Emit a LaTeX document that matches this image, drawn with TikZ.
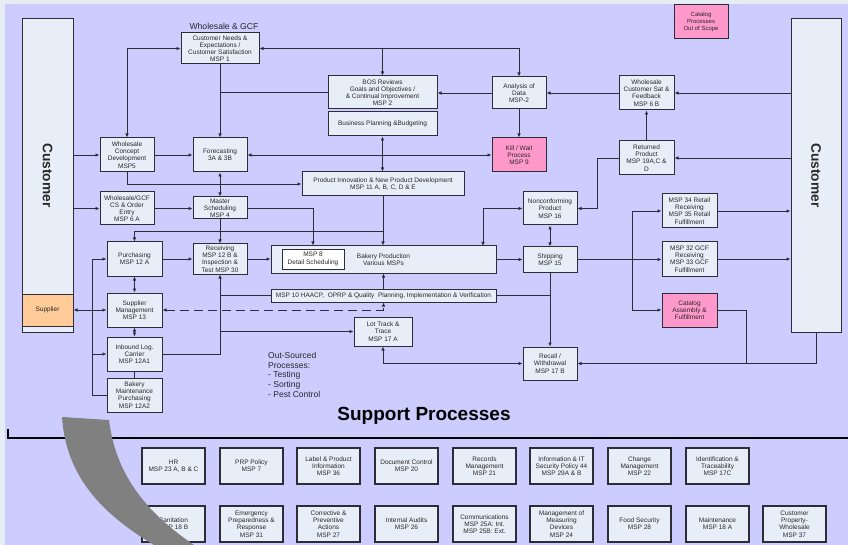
\documentclass[tikz,border=0pt]{standalone}
\usepackage{fontspec}
\setmainfont{Liberation Sans}
\usetikzlibrary{arrows.meta,calc}
\definecolor{lav}{RGB}{204,204,255}
\definecolor{boxfill}{RGB}{232,238,247}
\definecolor{pinkf}{RGB}{255,153,204}
\definecolor{orangef}{RGB}{255,204,153}
\definecolor{edge}{RGB}{45,45,55}
\definecolor{outerbg}{RGB}{230,238,245}
\definecolor{swoosh}{RGB}{128,128,128}
\definecolor{txt}{RGB}{40,40,40}
\newcommand{\pbox}[7][]{\node[box,#1,minimum width={(#5-#3)*1pt},minimum height={(#6-#4)*1pt}] (#2) at ({(#3+#5)/2},{(#4+#6)/2}) {#7};}
\begin{document}
\begin{tikzpicture}[x=1pt,y=-1pt,
  box/.style={draw=edge, line width=1pt, fill=boxfill, inner sep=0pt, align=center, font=\fontsize{6.5}{7.2}\selectfont, text=txt},
  pinkbox/.style={fill=pinkf},
  con/.style={draw=edge, line width=0.8pt},
  arr/.style={con, -{Latex[length=4pt,width=3.6pt]}},
  darr/.style={con, {Latex[length=4pt,width=3.6pt]}-{Latex[length=4pt,width=3.6pt]}},
  custlabel/.style={rotate=-90, font=\bfseries\fontsize{13.7}{14}\selectfont, text=txt}
]
\useasboundingbox (0,0) rectangle (848,545);
\fill[outerbg] (0,0) rectangle (848,545);
\fill[lav] (5,4) rectangle (848,545);

% customers
\pbox[label={[custlabel]center:Customer}]{custL}{22}{19}{73}{332}{}
\pbox[label={[custlabel]center:Customer}]{custR}{791}{19}{841}{332}{}
\pbox[fill=orangef]{sup}{22}{294}{73}{326}{Supplier}

% top labels
\node[font=\fontsize{8.6}{9}\selectfont, text=txt] (wgcf) at (224,26) {Wholesale \& GCF};

% process boxes
\pbox{msp1}{181}{33}{259}{64}{Customer Needs \&\\Expectations /\\Customer Satisfaction\\MSP 1}
\pbox{wcd}{100}{138}{154}{172}{Wholesale\\Concept\\Development\\MSP5}
\pbox{fc}{193}{138}{247}{172}{Forecasting\\3A \& 3B}
\pbox{bos}{328}{76}{437}{109}{BOS Reviews\\Goals and Objectives /\\\& Continual Improvement\\MSP 2}
\pbox{bp}{328}{112}{437}{136}{Business Planning \&Budgeting}
\pbox{aod}{492}{77}{546}{109}{Analysis of\\Data\\MSP-2}
\pbox[pinkbox]{kill}{492}{138}{546}{172}{Kill / Wait\\Process\\MSP 9}
\pbox{pi}{302}{172}{464}{196}{Product Innovation \& New Product Development\\MSP 11 A, B, C, D \& E}
\pbox[pinkbox,font=\fontsize{6}{7}\selectfont]{cat}{674}{5}{728}{39}{Catalog\\Processes\\Out of Scope}
\pbox{wcs}{619}{76}{674}{110}{Wholesale\\Customer Sat \&\\Feedback\\MSP 6 B}
\pbox{rp}{619}{141}{674}{175}{Returned\\Product\\MSP 19A,C \&\\D}
\pbox{oe}{100}{192}{154}{225}{Wholesale/GCF\\CS \& Order\\Entry\\MSP 6 A}
\pbox{ms}{193}{197}{247}{219}{Master\\Scheduling\\MSP 4}
\pbox{pur}{107}{242}{162}{276}{Purchasing\\MSP 12 A}
\pbox{rec}{193}{244}{247}{274}{Receiving\\MSP 12 B \&\\Inspection \&\\Test MSP 30}
\pbox{sm}{107}{293}{162}{327}{Supplier\\Management\\MSP 13}
\pbox{ilc}{107}{337}{162}{371}{Inbound Log.\\Carrier\\MSP 12A1}
\pbox{bmp}{107}{378}{162}{412}{Bakery\\Maintenance\\Purchasing\\MSP 12A2}
\pbox{bak}{271}{246}{496}{273}{Bakery Production\\Various MSPs}
\pbox[fill=white,line width=0.8pt]{msp8}{282}{249}{344}{269}{MSP 8\\Detail Scheduling}
\pbox{msp10}{271}{289}{496}{302}{MSP 10 HAACP,\ \ OPRP \& Quality\ \ Planning, Implementation \& Verification}
\pbox{lot}{354}{317}{412}{346}{Lot Track \&\\Trace\\MSP 17 A}
\pbox{nc}{523}{192}{577}{225}{Nonconforming\\Product\\MSP 16}
\pbox{ship}{523}{247}{577}{272}{Shipping\\MSP 15}
\pbox{rw}{523}{347}{577}{380}{Recall /\\Withdrawal\\MSP 17 B}
\pbox{r34}{662}{194}{717}{228}{MSP 34 Retail\\Receiving\\MSP 35 Retail\\Fulfillment}
\pbox{g32}{662}{242}{717}{276}{MSP 32 GCF\\Receiving\\MSP 33 GCF\\Fulfillment}
\pbox[pinkbox]{caf}{662}{293}{717}{327}{Catalog\\Assembly \&\\Fulfillment}

% junction coordinates
\coordinate (b231) at (383,231);
\coordinate (ncj) at (483,246);
\coordinate (rpj) at (597,158);
\coordinate (sj) at (632,259.5);
\coordinate (cj) at (746,363.5);
\coordinate (lb) at (92,395);

% connectors
\draw[darr] (wcd.north) |- (msp1.west);
\draw[arr] (aod.north |- msp1.east) -- (msp1.east);
\draw[arr] (aod.north |- msp1.east) -- (aod.north);
\draw[arr] (bos.north |- msp1.east) -- (bos.north);
\draw[arr] (msp1.south) -- (fc.north);
\draw[con] (msp1.south |- bos.west) -- (bos.west);
\draw[arr] (wcs.west) -- (aod.east);
\draw[arr] (aod.west) -- (aod.west -| bos.east);
\draw[arr] (aod.south) -- (kill.north);
\draw[arr] (custL.east |- wcd.west) -- (wcd.west);
\draw[arr] (wcd.east) -- (fc.west);
\draw[darr] (fc.east) -- (kill.west);
\draw[darr] (bp.south) -- (bp.south |- pi.north);
\draw[arr] (wcd.south) |- (pi.west);
\draw[darr] (fc.south) -- (ms.north);
\draw[arr] (custL.east |- oe.west) -- (oe.west);
\draw[arr] (oe.east) -- (oe.east -| ms.west);
\draw[arr] (ms.east) -| (msp8.north |- bak.north);
\draw[arr] (ms.south) -- (rec.north);
\draw[arr] (pi.south) -- (pi.south |- bak.north);
\draw[arr] (b231) -| (pur.north);
\draw[arr] (pur.east) -- (pur.east -| rec.west);
\draw[arr] (rec.east) -- (rec.east -| bak.west);
\draw[arr] (bak.east) -- (bak.east -| ship.west);
\draw[darr] (ship.north) -- (nc.south);
\draw[darr] (nc.west) -| (ncj);
\draw[arr] (rp.west) -- (rpj) |- (nc.east);
\draw[arr] (rp.north) -- (wcs.south);
\draw[arr] (custR.west |- wcs.east) -- (wcs.east);
\draw[arr] (custR.west |- rp.east) -- (rp.east);
\draw[arr] (ship.east) -- (ship.east -| g32.west);
\draw[arr] (sj) |- (r34.west);
\draw[arr] (sj) |- (caf.west);
\draw[arr] (r34.east) -- (r34.east -| custR.west);
\draw[arr] (g32.east) -- (g32.east -| custR.west);
\draw[con] (caf.east) -| (cj);
\draw[arr] (custR.south) |- (rw.east);
\draw[arr] (ship.south) -- (rw.north);
\draw[con] (msp10.east) -- (msp10.east -| ship.south);
\draw[arr] (msp10.north) -- (bak.south);
\draw[darr, dashed, dash pattern=on 9pt off 5pt] (sm.east) -- (msp10.south |- sm.east) -- (msp10.south);
\draw[arr] (ilc.east) -| (rec.south);
\draw[con] (rec.south |- msp10.west) -- (msp10.west);
\draw[arr] (rec.south |- lot.west) -- (lot.west);
\draw[darr] (lot.south) |- (rw.west);
\draw[darr] (pur.south) -- (sm.north);
\draw[darr] (sm.south) -- (ilc.north);
\draw[con] (ilc.south) -- (bmp.north);
\draw[darr] (sup.east) -- (sm.west);
\draw[arr] (bmp.west) -- (lb) |- (pur.west);
\draw[arr] (lb |- ilc.west) -- (ilc.west);

% out-sourced text
\node[anchor=north west, align=left, inner sep=0pt, font=\fontsize{8.5}{9.75}\selectfont, text=txt] (os) at (268,352) {Out-Sourced\\Processes:\\- Testing\\- Sorting\\- Pest Control};

% support processes
\node[font=\bfseries\fontsize{19}{20}\selectfont, text=black] (sp) at (424,416) {Support Processes};
\draw[line width=2pt, black] (8,429) -- (8,438) -- (848,438);

\tikzset{sbox/.style={box, line width=1.1pt}}
\pbox[sbox]{s1}{142}{448}{205}{484}{HR\\MSP 23 A, B \& C}
\pbox[sbox]{s2}{220}{448}{283}{484}{PRP Policy\\MSP 7}
\pbox[sbox]{s3}{297}{448}{360}{484}{Label \& Product\\Information\\MSP 36}
\pbox[sbox]{s4}{375}{448}{438}{484}{Document Control\\MSP 20}
\pbox[sbox]{s5}{453}{448}{516}{484}{Records\\Management\\MSP 21}
\pbox[sbox]{s6}{530}{448}{593}{484}{Information \& IT\\Security Policy 44\\MSP 29A \& B}
\pbox[sbox]{s7}{608}{448}{671}{484}{Change\\Management\\MSP 22}
\pbox[sbox]{s8}{686}{448}{749}{484}{Identification \&\\Traceability\\MSP 17C}

\pbox[sbox]{t1}{142}{506}{205}{542}{Sanitation\\MSP 18 B}
\pbox[sbox]{t2}{220}{506}{283}{542}{Emergency\\Preparedness \&\\Response\\MSP 31}
\pbox[sbox]{t3}{297}{506}{360}{542}{Corrective \&\\Preventive\\Actions\\MSP 27}
\pbox[sbox]{t4}{375}{506}{438}{542}{Internal Audits\\MSP 26}
\pbox[sbox]{t5}{453}{506}{516}{542}{Communications\\MSP 25A: Int.\\MSP 25B: Ext.}
\pbox[sbox]{t6}{530}{506}{593}{542}{Management of\\Measuring\\Devices\\MSP 24}
\pbox[sbox]{t7}{608}{506}{671}{542}{Food Security\\MSP 28}
\pbox[sbox]{t8}{686}{506}{749}{542}{Maintenance\\MSP 18 A}
\pbox[sbox]{t9}{763}{506}{826}{542}{Customer\\Property-\\Wholesale\\MSP 37}

% gray swoosh
\fill[swoosh] (62,417) -- (109,420) .. controls (116,478) and (150,515) .. (194,545)
  -- (154,545) .. controls (104,515) and (66,478) .. cycle;
\end{tikzpicture}
\end{document}
